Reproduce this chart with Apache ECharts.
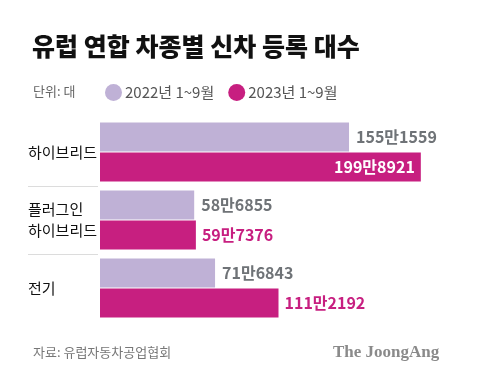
<!DOCTYPE html>
<html><head><meta charset="utf-8">
<script src="https://cdn.jsdelivr.net/npm/echarts@6/dist/echarts.min.js"></script>
<style>html,body{margin:0;padding:0;background:#fff}#c{width:480px;height:384px}</style>
</head><body><div id="c"></div>
<script>
const categories = ['하이브리드', '플러그인\n하이브리드', '전기'];
const seriesNames = ['2022년 1~9월', '2023년 1~9월'];
const values2022 = [1551559, 586855, 716843];
const values2023 = [1998921, 597376, 1112192];

const FONT = "'Noto Sans CJK KR', 'Noto Sans', sans-serif";
const C22 = '#bfb1d6', C23 = '#c71f80';
const AXIS_MAX = 2000000;

function fmt(v) {
  const man = Math.floor(v / 10000), rest = v % 10000;
  return man + '만' + String(rest).padStart(4, '0');
}

const chart = echarts.init(document.getElementById('c'), null, {renderer: 'canvas'});

const data2023 = values2023.map(v => {
  const inside = v > AXIS_MAX * 0.8;
  return {
    value: v,
    label: inside
      ? {position: 'insideRight', color: '#fff', distance: 6}
      : {position: 'right', color: C23, distance: 6}
  };
});

const option = {
  backgroundColor: '#fff',
  animation: false,
  textStyle: {fontFamily: FONT},
  title: [
    {text: '유럽 연합 차종별 신차 등록 대수', left: 27, top: 29,
      textStyle: {fontFamily: FONT, fontSize: 25, fontWeight: 900, color: '#111'}},
    {text: '단위: 대', left: 28, top: 80,
      textStyle: {fontFamily: FONT, fontSize: 13, fontWeight: 'normal', color: '#666'}},
    {text: '자료: 유럽자동차공업협회', left: 28, top: 341,
      textStyle: {fontFamily: FONT, fontSize: 13, fontWeight: 'normal', color: '#777'}},
    {text: 'The JoongAng', left: 328, top: 339,
      textStyle: {fontFamily: "'Liberation Serif', 'DejaVu Serif', serif", fontSize: 17, fontWeight: 'bold', color: '#8a8a8a'}}
  ],
  legend: {
    data: seriesNames,
    left: 100, top: 79,
    icon: 'circle', itemWidth: 17, itemHeight: 17, itemGap: 14,
    textStyle: {fontFamily: FONT, fontSize: 15, color: '#555', padding: [0, 0, 0, -2]}
  },
  grid: {left: 100, right: 59, top: 118, height: 204, containLabel: false},
  xAxis: {type: 'value', min: 0, max: AXIS_MAX, show: false},
  yAxis: {
    type: 'category', data: categories, inverse: true,
    axisLine: {show: false}, axisTick: {show: false},
    axisLabel: {margin: 72, align: 'left', color: '#111', fontSize: 15, lineHeight: 21, fontFamily: FONT}
  },
  series: [
    {name: seriesNames[0], type: 'bar', data: values2022, barWidth: 29, barGap: '3%',
      itemStyle: {color: C22},
      label: {show: true, position: 'right', distance: 7, color: '#6f7377', fontSize: 16, fontWeight: 'bold', fontFamily: FONT, formatter: p => fmt(p.value)}},
    {name: seriesNames[1], type: 'bar', data: data2023, barWidth: 29,
      itemStyle: {color: C23},
      label: {show: true, fontSize: 16, fontWeight: 'bold', fontFamily: FONT, formatter: p => fmt(p.value)}}
  ]
};
chart.setOption(option);

// category separators drawn at band boundaries, to the left of the bars
const lines = [];
for (let i = 0; i < categories.length - 1; i++) {
  const y0 = chart.convertToPixel({yAxisIndex: 0}, categories[i]);
  const y1 = chart.convertToPixel({yAxisIndex: 0}, categories[i + 1]);
  const y = Math.round((y0 + y1) / 2) + 0.5;
  lines.push({type: 'line', shape: {x1: 28, y1: y, x2: 98, y2: y}, style: {stroke: '#dcdcdc', lineWidth: 1}});
}
chart.setOption({graphic: lines});
</script></body></html>
